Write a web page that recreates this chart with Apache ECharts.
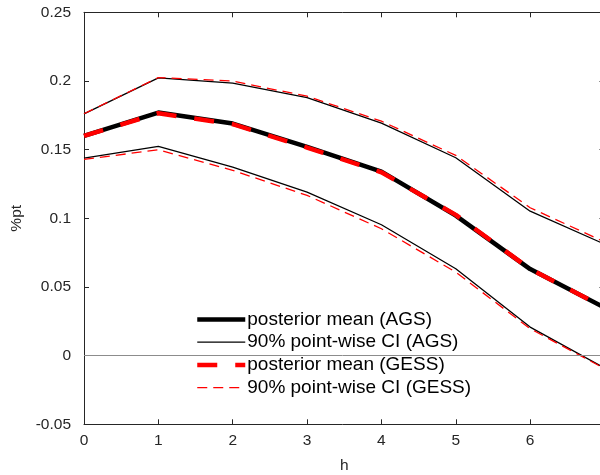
<!DOCTYPE html>
<html>
<head>
<meta charset="utf-8">
<script src="https://cdn.jsdelivr.net/npm/echarts@6/dist/echarts.min.js"></script>
<style>html,body{margin:0;padding:0;background:#fff;}#c{width:600px;height:475px;}</style>
</head>
<body>
<div id="c"></div>
<script>
var horizons = [0, 1, 2, 3, 4, 5, 6, 7];
var agsMean   = [0.160, 0.177, 0.169, 0.152, 0.134, 0.102, 0.063, 0.035];
var agsUpper  = [0.176, 0.2023, 0.1984, 0.1878, 0.1693, 0.1441, 0.1052, 0.0812];
var agsLower  = [0.1438, 0.1523, 0.1373, 0.1191, 0.0953, 0.0633, 0.0208, -0.0090];
var gessMean  = [0.160, 0.1765, 0.1685, 0.1515, 0.1335, 0.1025, 0.063, 0.035];
var gessUpper = [0.1761, 0.2025, 0.1999, 0.1889, 0.1707, 0.1458, 0.1077, 0.0828];
var gessLower = [0.1429, 0.1499, 0.1349, 0.1167, 0.0924, 0.0608, 0.0196, -0.0094];
var yTicks = [-0.05, 0, 0.05, 0.1, 0.15, 0.2, 0.25];
var names = ['posterior mean (AGS)', '90% point-wise CI (AGS)', 'posterior mean (GESS)', '90% point-wise CI (GESS)'];

function pairs(ys) { return horizons.map(function (x, i) { return [x, ys[i]]; }); }

var axisColor = '#262626';
var font = 'Liberation Sans, Arial, sans-serif';
var styles = [
  { color: '#000000', width: 4.5, type: 'solid' },
  { color: '#000000', width: 1.3, type: 'solid' },
  { color: '#ff0000', width: 4.5, type: [20, 18] },
  { color: '#ff0000', width: 1.3, type: [10, 6] }
];

function mk(idx, ys, z) {
  var s = styles[idx];
  return {
    type: 'line', name: names[idx], data: pairs(ys), symbol: 'none', showSymbol: false, z: z,
    lineStyle: { color: s.color, width: s.width, type: s.type },
    itemStyle: { color: s.color },
    emphasis: { disabled: true }, animation: false
  };
}

var series = [
  mk(0, agsMean, 2),
  mk(1, agsUpper, 2),
  mk(1, agsLower, 2),
  mk(2, gessMean, 3),
  mk(3, gessUpper, 3),
  mk(3, gessLower, 3)
];
series[0].markLine = {
  silent: true, symbol: 'none', animation: false,
  label: { show: false },
  lineStyle: { color: '#8c8c8c', width: 1, type: 'solid' },
  data: [{ yAxis: 0 }]
};

var chart = echarts.init(document.getElementById('c'), null, { renderer: 'canvas' });
chart.setOption({
  backgroundColor: '#ffffff',
  animation: false,
  grid: { left: 84, right: -4.5, top: 12.3, bottom: 50.7, containLabel: false, outerBoundsMode: 'none' },
  legend: {
    orient: 'vertical', left: 195, top: 309.5, padding: 0,
    itemWidth: 48, itemHeight: 14, itemGap: 2.7,
    selectedMode: false,
    itemStyle: { opacity: 0 },
    textStyle: { fontFamily: font, fontSize: 19, color: '#000', lineHeight: 20, padding: [0, 0, 0, -3] },
    data: names.map(function (n, i) {
      return { name: n, itemStyle: { opacity: 0 }, lineStyle: { color: styles[i].color, width: styles[i].width, type: styles[i].type } };
    })
  },
  xAxis: [{
    type: 'value', min: 0, max: 7, interval: 1, position: 'bottom',
    name: 'h', nameLocation: 'middle', nameGap: 33,
    nameTextStyle: { fontFamily: font, fontSize: 15.5, color: axisColor },
    axisLine: { show: true, onZero: false, lineStyle: { color: axisColor, width: 1 } },
    axisTick: { show: true, inside: true, length: 5, lineStyle: { color: axisColor } },
    axisLabel: { fontFamily: font, fontSize: 15.5, color: axisColor, margin: 8, showMaxLabel: true, showMinLabel: true, hideOverlap: false },
    splitLine: { show: false }
  }, {
    type: 'value', min: 0, max: 7, interval: 1, position: 'top',
    axisLine: { show: true, onZero: false, lineStyle: { color: axisColor, width: 1 } },
    axisTick: { show: true, inside: true, length: 5, lineStyle: { color: axisColor } },
    axisLabel: { show: false }, splitLine: { show: false }
  }],
  yAxis: [{
    type: 'value', min: -0.05, max: 0.25, interval: 0.05, position: 'left',
    name: '%pt', nameLocation: 'middle', nameGap: 48, nameRotate: 90,
    nameTextStyle: { fontFamily: font, fontSize: 15.5, color: axisColor },
    axisLine: { show: true, onZero: false, lineStyle: { color: axisColor, width: 1 } },
    axisTick: { show: true, inside: true, length: 5, lineStyle: { color: axisColor } },
    axisLabel: {
      fontFamily: font, fontSize: 15.5, color: axisColor, margin: 13,
      formatter: function (v) {
        var r = Math.round(v * 100) / 100;
        for (var i = 0; i < yTicks.length; i++) if (Math.abs(yTicks[i] - r) < 1e-9) return String(yTicks[i]);
        return String(r);
      }
    },
    splitLine: { show: false }
  }, {
    type: 'value', min: -0.05, max: 0.25, interval: 0.05, position: 'right',
    axisLine: { show: true, onZero: false, lineStyle: { color: axisColor, width: 1 } },
    axisTick: { show: true, inside: true, length: 5, lineStyle: { color: axisColor } },
    axisLabel: { show: false }, splitLine: { show: false }
  }],
  series: series
});
</script>
</body>
</html>
